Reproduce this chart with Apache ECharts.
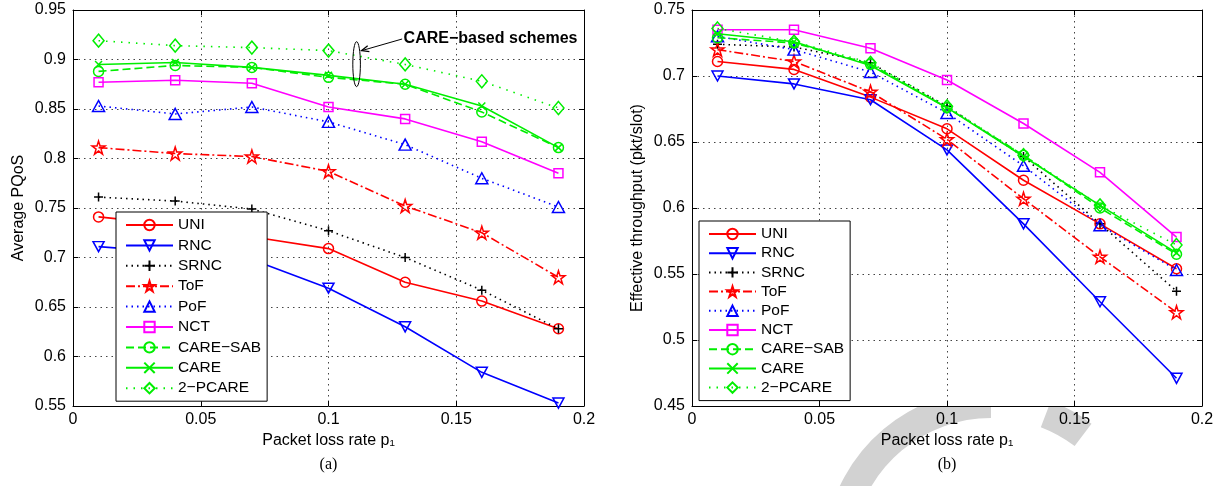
<!DOCTYPE html>
<html>
<head>
<meta charset="utf-8">
<script src="https://cdn.jsdelivr.net/npm/echarts@6/dist/echarts.min.js"></script>
<style>
  html, body { margin: 0; padding: 0; background: #fff; }
  #main { width: 1227px; height: 486px; }
</style>
</head>
<body>
<div id="main"></div>
<script>
// Packet loss rate p1 (x values shared by both panels)
const pLoss = [0.01, 0.04, 0.07, 0.10, 0.13, 0.16, 0.19];
const schemes = ['UNI', 'RNC', 'SRNC', 'ToF', 'PoF', 'NCT', 'CARE−SAB', 'CARE', '2−PCARE'];

// Tick values
const xTicks = [0, 0.05, 0.1, 0.15, 0.2];
const pqosTicks = [0.55, 0.6, 0.65, 0.7, 0.75, 0.8, 0.85, 0.9, 0.95];
const thrTicks = [0.45, 0.5, 0.55, 0.6, 0.65, 0.7, 0.75];

// (a) Average PQoS
const pqosUNI     = [0.741, 0.733, 0.721, 0.709, 0.675, 0.656, 0.628];
const pqosRNC     = [0.711, 0.705, 0.698, 0.669, 0.630, 0.584, 0.553];
const pqosSRNC    = [0.761, 0.757, 0.749, 0.727, 0.700, 0.667, 0.628];
const pqosToF     = [0.811, 0.805, 0.802, 0.787, 0.752, 0.725, 0.680];
const pqosPoF     = [0.853, 0.845, 0.852, 0.837, 0.814, 0.780, 0.751];
const pqosNCT     = [0.877, 0.879, 0.876, 0.852, 0.840, 0.817, 0.785];
const pqosCARESAB = [0.888, 0.894, 0.892, 0.882, 0.875, 0.847, 0.811];
const pqosCARE    = [0.895, 0.897, 0.892, 0.884, 0.875, 0.853, 0.811];
const pqos2PCARE  = [0.919, 0.914, 0.912, 0.909, 0.895, 0.878, 0.851];

// (b) Effective throughput (pkt/slot)
const thrUNI     = [0.711, 0.705, 0.684, 0.660, 0.621, 0.588, 0.554];
const thrRNC     = [0.700, 0.694, 0.682, 0.644, 0.588, 0.529, 0.471];
const thrSRNC    = [0.724, 0.722, 0.710, 0.677, 0.639, 0.588, 0.537];
const thrToF     = [0.720, 0.711, 0.688, 0.652, 0.607, 0.563, 0.521];
const thrPoF     = [0.730, 0.720, 0.703, 0.672, 0.632, 0.587, 0.553];
const thrNCT     = [0.735, 0.735, 0.721, 0.697, 0.664, 0.627, 0.578];
const thrCARESAB = [0.729, 0.725, 0.709, 0.676, 0.640, 0.600, 0.565];
const thrCARE    = [0.732, 0.726, 0.708, 0.676, 0.639, 0.602, 0.566];
const thr2PCARE  = [0.736, 0.726, 0.710, 0.677, 0.640, 0.602, 0.572];

const pqosData = [pqosUNI, pqosRNC, pqosSRNC, pqosToF, pqosPoF, pqosNCT, pqosCARESAB, pqosCARE, pqos2PCARE];
const thrData  = [thrUNI, thrRNC, thrSRNC, thrToF, thrPoF, thrNCT, thrCARESAB, thrCARE, thr2PCARE];

const FONT = '"Liberation Sans", Arial, Helvetica, sans-serif';
const SERIF = '"Liberation Serif", "Times New Roman", serif';

// Marker shapes
const SYM = {
  circle: 'circle',
  triDown: 'path://M0,0L20,0L10,17.3Z',
  plus: 'path://M0,5L10,5M5,0L5,10',
  star: 'path://M10,0L12.245,6.91L19.51,6.91L13.633,11.18L15.878,18.09L10,13.82L4.122,18.09L6.367,11.18L0.49,6.91L7.755,6.91Z',
  triUp: 'triangle',
  square: 'rect',
  cross: 'path://M0,0L10,10M0,10L10,0',
  diamond: 'diamond'
};

// Line / marker look of each scheme
const looks = [
  { color: '#ff0000', dash: 'solid',        symbol: SYM.circle,  size: 10 },
  { color: '#0000ff', dash: 'solid',        symbol: SYM.triDown, size: [11, 10] },
  { color: '#000000', dash: [1.5, 4],       symbol: SYM.plus,    size: 9 },
  { color: '#ff0000', dash: [9, 3, 2, 3],   symbol: SYM.star,    size: 13 },
  { color: '#0000ff', dash: [1.5, 4],       symbol: SYM.triUp,   size: [12, 11] },
  { color: '#ff00ff', dash: 'solid',        symbol: SYM.square,  size: 9 },
  { color: '#00ee00', dash: [8, 4],         symbol: SYM.circle,  size: 10 },
  { color: '#00ee00', dash: 'solid',        symbol: SYM.cross,   size: 7 },
  { color: '#00ee00', dash: [1.5, 6],       symbol: SYM.diamond, size: [11, 13] }
];

function makeSeries(values, idx, gi) {
  const lk = looks[idx];
  return {
    name: schemes[idx],
    type: 'line',
    xAxisIndex: gi * 2,
    yAxisIndex: gi * 2,
    data: pLoss.map((x, i) => [x, values[i]]),
    symbol: lk.symbol,
    symbolSize: lk.size,
    showAllSymbol: true,
    animation: false,
    lineStyle: { color: lk.color, width: 1.6, type: lk.dash },
    itemStyle: { color: 'rgba(255,255,255,0)', borderColor: lk.color, borderWidth: 1.5 },
    emphasis: { disabled: true },
    z: 2 + idx
  };
}

const tickStyle = { show: true, inside: true, length: 5, lineStyle: { color: '#000', width: 1 } };
const lineAx = { show: true, onZero: false, lineStyle: { color: '#000', width: 1 } };
const gridLine = { show: true, lineStyle: { color: '#444', width: 1, type: [1.5, 4] } };

function xAxisFor(gi, mirror) {
  return {
    type: 'value', gridIndex: gi, position: mirror ? 'top' : 'bottom',
    min: xTicks[0], max: xTicks[xTicks.length - 1], interval: xTicks[1] - xTicks[0],
    axisLine: lineAx, axisTick: tickStyle,
    splitLine: mirror ? { show: false } : gridLine,
    axisLabel: mirror ? { show: false } : { color: '#000', fontSize: 16, fontFamily: FONT, margin: 6 },
    name: mirror ? '' : 'Packet loss rate p₁',
    nameLocation: 'middle', nameGap: 25,
    nameTextStyle: { color: '#000', fontSize: 16, fontFamily: FONT }
  };
}

function yAxisFor(gi, mirror, ticks, title) {
  return {
    type: 'value', gridIndex: gi, position: mirror ? 'right' : 'left',
    min: ticks[0], max: ticks[ticks.length - 1], interval: ticks[1] - ticks[0],
    axisLine: lineAx, axisTick: tickStyle,
    splitLine: mirror ? { show: false } : gridLine,
    axisLabel: mirror ? { show: false } : {
      color: '#000', fontSize: 16, fontFamily: FONT, margin: 7,
      formatter: v => String(parseFloat(v.toFixed(2)))
    },
    name: mirror ? '' : title,
    nameLocation: 'middle', nameGap: 46,
    nameTextStyle: { color: '#000', fontSize: 16, fontFamily: FONT }
  };
}

function legendFor(left, top, gap) {
  return {
    data: schemes, orient: 'vertical', left: left, top: top,
    itemWidth: 47, itemHeight: 13, itemGap: gap,
    padding: [5, 6, 5, 9],
    borderColor: '#000', borderWidth: 1, backgroundColor: '#fff',
    textStyle: { color: '#000', fontSize: 15.5, fontFamily: FONT },
    selectedMode: false,
    z: 10
  };
}

const series = [];
pqosData.forEach((vals, i) => series.push(makeSeries(vals, i, 0)));
thrData.forEach((vals, i) => series.push(makeSeries(vals, i, 1)));

const chart = echarts.init(document.getElementById('main'));
chart.setOption({
  animation: false,
  backgroundColor: '#fff',
  grid: [
    { left: 73, right: 643, top: 10, bottom: 80, show: true, backgroundColor: '#fff', borderWidth: 0, z: 0 },
    { left: 692, right: 25, top: 10, bottom: 80, show: true, backgroundColor: '#fff', borderWidth: 0, z: 0 }
  ],
  xAxis: [xAxisFor(0, false), xAxisFor(0, true), xAxisFor(1, false), xAxisFor(1, true)],
  yAxis: [
    yAxisFor(0, false, pqosTicks, 'Average PQoS'),
    yAxisFor(0, true, pqosTicks, ''),
    yAxisFor(1, false, thrTicks, 'Effective throughput (pkt/slot)'),
    yAxisFor(1, true, thrTicks, '')
  ],
  legend: [legendFor(116, 212, 4.4), legendFor(699, 221, 3.2)],
  series: series
});

// Annotation on panel (a): ellipse around the CARE-based curves with a labelled arrow
const ellTop = chart.convertToPixel({ gridIndex: 0 }, [0.111, 0.918]);
const ellBot = chart.convertToPixel({ gridIndex: 0 }, [0.111, 0.8726]);
const textAt = chart.convertToPixel({ gridIndex: 0 }, [0.1294, 0.9207]);
const headAt = chart.convertToPixel({ gridIndex: 0 }, [0.1129, 0.9089]);
const tail = [textAt[0] - 1.5, textAt[1]];
const ang = Math.atan2(headAt[1] - tail[1], headAt[0] - tail[0]);
const hl = 8, ha = 0.4;
const wing1 = [headAt[0] - hl * Math.cos(ang - ha), headAt[1] - hl * Math.sin(ang - ha)];
const wing2 = [headAt[0] - hl * Math.cos(ang + ha), headAt[1] - hl * Math.sin(ang + ha)];

// Panel captions centred under each plot
const capA = chart.convertToPixel({ gridIndex: 0 }, [0.1, 0.55]);
const capB = chart.convertToPixel({ gridIndex: 1 }, [0.1, 0.45]);

const deg = Math.PI / 180;
chart.setOption({
  graphic: [
    // light grey ring behind the right panel
    { type: 'arc', z: -100, silent: true,
      shape: { cx: 991, cy: 557, r: 153, startAngle: 140 * deg, endAngle: 270 * deg, clockwise: true },
      style: { stroke: '#d2d2d2', lineWidth: 28, fill: null } },
    { type: 'arc', z: -100, silent: true,
      shape: { cx: 991, cy: 557, r: 153, startAngle: 291 * deg, endAngle: 307 * deg, clockwise: true },
      style: { stroke: '#d2d2d2', lineWidth: 28, fill: null } },
    { type: 'ellipse', z: 50, silent: true,
      shape: { cx: (ellTop[0] + ellBot[0]) / 2, cy: (ellTop[1] + ellBot[1]) / 2, rx: 3.8, ry: (ellBot[1] - ellTop[1]) / 2 },
      style: { stroke: '#000', lineWidth: 1, fill: null } },
    { type: 'line', z: 50, silent: true,
      shape: { x1: tail[0], y1: tail[1], x2: headAt[0], y2: headAt[1] },
      style: { stroke: '#000', lineWidth: 1 } },
    { type: 'polyline', z: 50, silent: true,
      shape: { points: [wing1, headAt, wing2] },
      style: { stroke: '#000', lineWidth: 1.2, fill: null } },
    { type: 'text', z: 50, silent: true, x: textAt[0], y: textAt[1],
      style: { text: 'CARE−based schemes', fill: '#000', font: 'bold 16px ' + FONT, align: 'left', verticalAlign: 'middle' } },
    { type: 'text', z: 50, silent: true, x: capA[0], y: 465,
      style: { text: '(a)', fill: '#000', font: '16px ' + SERIF, align: 'center', verticalAlign: 'middle' } },
    { type: 'text', z: 50, silent: true, x: capB[0], y: 465,
      style: { text: '(b)', fill: '#000', font: '16px ' + SERIF, align: 'center', verticalAlign: 'middle' } }
  ]
});
</script>
</body>
</html>
